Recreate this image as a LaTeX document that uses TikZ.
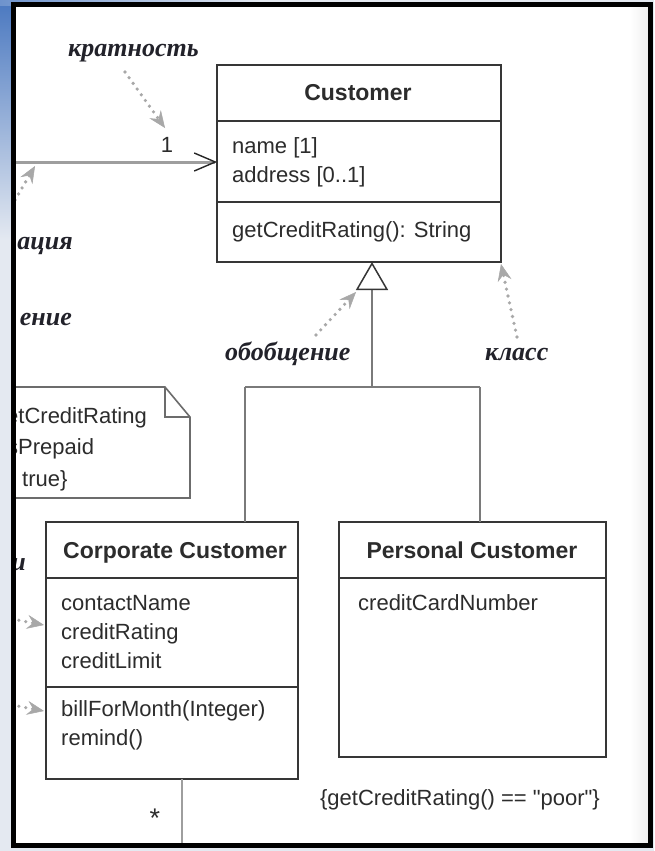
\documentclass[tikz,border=0pt]{standalone}
\usepackage{fontspec}
\setmainfont{Liberation Sans}
\newfontfamily\rawsans{Liberation Sans}[Ligatures=TeXOff]
\newfontfamily\annfont{Liberation Serif}
\usetikzlibrary{arrows.meta,calc}

\definecolor{boxline}{HTML}{363636}
\definecolor{txt}{HTML}{2C2C2C}
\definecolor{genline}{HTML}{7A7A7A}
\definecolor{assocline}{HTML}{9E9E9E}
\definecolor{pointer}{HTML}{A8A8A8}
\definecolor{notegray}{HTML}{6C6C6C}
\definecolor{slideblue}{HTML}{4A78C0}
\definecolor{slidepale}{HTML}{E4E9F1}
\definecolor{anntext}{HTML}{22222A}

\tikzset{
  compart/.style={draw=boxline, line width=1.6pt, anchor=north west,
    inner sep=0pt, outer sep=0pt},
  ttl/.style={font=\fontsize{23}{28}\selectfont\bfseries, text=txt,
    anchor=base, inner sep=0pt},
  member/.style={font=\fontsize{22}{28}\selectfont, text=txt,
    anchor=base west, inner sep=0pt},
  annot/.style={font=\annfont\fontsize{26}{30}\selectfont\bfseries\itshape,
    text=anntext, anchor=base west, inner sep=0pt},
  pointerarrow/.style={draw=pointer, line width=3.6pt, line cap=round,
    dash pattern=on 0pt off 7pt,
    -{Stealth[length=17pt, width=14pt, inset=6pt, line width=0.5pt,
      fill=pointer, color=pointer]}},
  genedge/.style={draw=genline, line width=2pt},
  assocedge/.style={draw=assocline, line width=3pt},
  notestroke/.style={draw=notegray, line width=1.6pt, line join=miter},
}

\begin{document}
\begin{tikzpicture}[x=1pt, y=-1pt]
\useasboundingbox (0,0) rectangle (654,851);

% slide background around the framed figure
\fill[slidepale] (0,0) rectangle (654,851);
\shade[top color=slideblue, bottom color=slidepale] (0,0) rectangle (14,240);
\shade[left color=slideblue!80, right color=slidepale] (0,0) rectangle (260,6);
\fill[white] (13,5) rectangle (650,845);
\shade[left color=white, right color=black!7] (630,5) rectangle (650,845);

\begin{scope}
\clip (16,7) rectangle (648,843);

% ---- class Customer ----
\node[compart, minimum width=284pt, minimum height=56pt] (custT) at (217,65) {};
\node[compart, minimum width=284pt, minimum height=81pt] (custA) at (custT.south west) {};
\node[compart, minimum width=284pt, minimum height=60pt] (custO) at (custA.south west) {};
\node[ttl] (custName) at (358,100) {Customer};
\node[member] (custA1) at (232,153) {name [1]};
\node[member] (custA2) at (232,182) {address [0..1]};
\node[member] (custO1) at (232,237) {getCreditRating(): String};

% ---- class Corporate Customer ----
\node[compart, minimum width=252pt, minimum height=56pt] (corpT) at (46,522) {};
\node[compart, minimum width=252pt, minimum height=109pt] (corpA) at (corpT.south west) {};
\node[compart, minimum width=252pt, minimum height=92pt] (corpO) at (corpA.south west) {};
\node[ttl] (corpName) at (175,558) {Corporate Customer};
\node[member] (corpA1) at (61,610) {contactName};
\node[member] (corpA2) at (61,639) {creditRating};
\node[member] (corpA3) at (61,668) {creditLimit};
\node[member] (corpO1) at (61,716) {billForMonth(Integer)};
\node[member] (corpO2) at (61,745) {remind()};

% ---- class Personal Customer ----
\node[compart, minimum width=267pt, minimum height=56pt] (persT) at (339,522) {};
\node[compart, minimum width=267pt, minimum height=179pt] (persA) at (persT.south west) {};
\node[ttl] (persName) at (472,558) {Personal Customer};
\node[member] (persA1) at (358,610) {creditCardNumber};
\node[member, font=\rawsans\fontsize{22}{28}\selectfont, anchor=base] (persRule) at (460,805)
  {\{getCreditRating() == "poor"\}};

% ---- generalization tree ----
\coordinate (fork) at (372,387);
\coordinate (forkL) at (245,387);
\coordinate (forkR) at (480,387);
\draw[genedge] (forkL) -- (forkR);
\draw[genedge] (forkL) -- (forkL |- corpT.north);
\draw[genedge] (forkR) -- (forkR |- persT.north);
\draw[genedge, -{Triangle[open, length=28pt, width=32pt, line width=1.5pt, color=boxline]}]
  (fork) -- (fork |- custO.south);

% ---- association ----
\coordinate (assocStart) at (0,162);
\draw[assocedge, -{Straight Barb[length=21pt, width=18pt, line width=1.4pt, color=black!85]}]
  (assocStart) -- (assocStart -| custA.west);
\node[member, anchor=base] (multOne) at (167,152) {1};
\coordinate (corpLink) at (182,843);
\draw[genedge, draw=assocline] (corpLink |- corpO.south) -- (corpLink);
\node[member, font=\fontsize{27}{30}\selectfont, anchor=base] (multMany) at (155,827) {*};

% ---- note ----
\coordinate (noteTL) at (-20,387);
\coordinate (noteFold) at (165,387);
\coordinate (noteFoldIn) at (165,417);
\coordinate (noteR) at (190,417);
\coordinate (noteBR) at (190,498);
\coordinate (noteBL) at (-20,498);
\draw[notestroke] (noteTL) -- (noteFold) -- (noteR) -- (noteBR) -- (noteBL);
\draw[notestroke] (noteFold) -- (noteFoldIn) -- (noteR);
\node[member] (noteL1) at (6,423) {etCreditRating};
\node[member] (noteL2) at (7,454) {sPrepaid};
\node[member] (noteL3) at (22,486) {true\}};

% ---- annotations ----
\node[annot] (lblMult) at (68,57) {кратность};
\node[annot] (lblGen) at (225,360) {обобщение};
\node[annot] (lblClass) at (485,360) {класс};
\node[annot, anchor=base east] (lblAssoc) at (73,249) {ация};
\node[annot, anchor=base east] (lblNav) at (72,325) {ение};
\node[annot, anchor=base east] (lblAttr) at (26,570) {и};

\coordinate (pMultA) at (125,72);   \coordinate (pMultB) at (165,128);
\coordinate (pAssocA) at (15,200);  \coordinate (pAssocB) at (35,166);
\coordinate (pGenA) at (316,335);   \coordinate (pGenB) at (356,292);
\coordinate (pClassA) at (517,337); \coordinate (pClassB) at (501,264);
\coordinate (pAttrA) at (12,619);   \coordinate (pAttrB) at (44,625);
\coordinate (pOperA) at (12,705);   \coordinate (pOperB) at (44,711);
\draw[pointerarrow] (pMultA) -- (pMultB);
\draw[pointerarrow] (pAssocA) -- (pAssocB);
\draw[pointerarrow] (pGenA) -- (pGenB);
\draw[pointerarrow] (pClassA) -- (pClassB);
\draw[pointerarrow] (pAttrA) -- (pAttrB);
\draw[pointerarrow] (pOperA) -- (pOperB);
\end{scope}

% frame round the figure
\draw[line width=5pt, black] (13.5,4.5) rectangle (650.5,845.5);
\end{tikzpicture}
\end{document}
